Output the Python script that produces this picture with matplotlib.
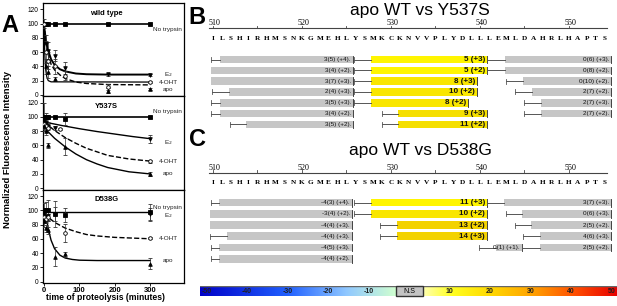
import matplotlib
matplotlib.use('Agg')
import matplotlib.pyplot as plt
import numpy as np
from matplotlib.patches import Rectangle
from matplotlib.colors import LinearSegmentedColormap

plt.rcParams['font.family'] = ['Liberation Sans', 'DejaVu Sans']

W, H = 617, 306

# ---------------- panel A: proteolysis time course ----------------
wt_nt_t = [0, 5, 10, 30, 60, 180, 300]
wt_nt_y = [100, 100, 100, 100, 100, 100, 100]
wt_e2_t = [0, 5, 10, 30, 60, 180, 300]
wt_e2_y = [100, 72, 62, 55, 38, 29, 28]
wt_e2_err = [3, 12, 12, 8, 8, 2, 2]
wt_oht_t = [0, 5, 10, 30, 60, 180, 300]
wt_oht_y = [100, 60, 48, 40, 27, 11, 18]
wt_oht_err = [6, 15, 12, 10, 6, 4, 1]
wt_apo_t = [5, 10, 30, 180, 300]
wt_apo_y = [40, 32, 22, 6, 8]
wt_apo_err = [10, 8, 3, 4, 1]
wt_e2_fit_t = [0, 2, 5, 10, 20, 30, 45, 60, 90, 120, 180, 300]
wt_e2_fit_y = [100, 90, 78, 65, 50, 42, 36, 33, 30, 29, 28.5, 28.5]
wt_oht_fit_t = [0, 5, 10, 20, 30, 45, 60, 90, 120, 180, 300]
wt_oht_fit_y = [100, 75, 60, 43, 35, 28, 23, 18, 16, 14.5, 14]
wt_apo_fit_t = [0, 1, 2, 3, 5, 8, 12, 20, 300]
wt_apo_fit_y = [100, 80, 62, 50, 35, 25, 20, 18.3, 18]

y5_nt_t = [0, 5, 10, 30, 60, 300]
y5_nt_y = [100, 100, 100, 100, 97, 100]
y5_nt_err = [20, 5, 3, 2, 8, 2]
y5_e2_t = [0, 5, 10, 30, 300]
y5_e2_y = [95, 92, 88, 85, 69]
y5_e2_err = [3, 4, 5, 3, 5]
y5_oht_t = [0, 5, 10, 45, 300]
y5_oht_y = [90, 87, 85, 83, 38]
y5_oht_err = [5, 5, 4, 2, 2]
y5_apo_t = [0, 5, 10, 60, 300]
y5_apo_y = [88, 80, 60, 58, 20]
y5_apo_err = [5, 6, 4, 12, 3]
y5_e2_fit_t = [0, 50, 100, 150, 200, 250, 300]
y5_e2_fit_y = [93, 88, 83.5, 79.5, 76, 72.5, 69.5]
y5_oht_fit_t = [0, 30, 60, 90, 120, 150, 180, 240, 300]
y5_oht_fit_y = [93, 81, 71, 63, 56, 51, 46, 41, 38]
y5_apo_fit_t = [0, 10, 30, 60, 90, 120, 150, 180, 240, 300]
y5_apo_fit_y = [90, 80, 70, 58, 48, 40, 34, 29, 23, 20]

d5_nt_t = [0, 5, 10, 30, 60, 300]
d5_nt_y = [100, 100, 100, 95, 93, 97]
d5_nt_err = [10, 12, 15, 18, 10, 12]
d5_e2_t = [0, 5, 10, 30, 300]
d5_e2_y = [95, 90, 92, 95, 95]
d5_e2_err = [5, 8, 6, 10, 8]
d5_oht_t = [0, 5, 10, 60, 300]
d5_oht_y = [90, 88, 90, 68, 61]
d5_oht_err = [5, 5, 5, 13, 1]
d5_apo_t = [0, 5, 10, 30, 60, 300]
d5_apo_y = [85, 75, 72, 35, 38, 25]
d5_apo_err = [8, 5, 5, 13, 3, 8]
d5_nt_fit_t = [0, 300]
d5_nt_fit_y = [97, 97]
d5_oht_fit_t = [0, 10, 20, 30, 45, 60, 90, 120, 150, 200, 250, 300]
d5_oht_fit_y = [95, 91, 87, 83, 79, 75, 70, 66, 64, 62, 61, 60]
d5_apo_fit_t = [0, 5, 10, 15, 20, 30, 45, 60, 80, 100, 150, 300]
d5_apo_fit_y = [95, 90, 80, 68, 58, 46, 37, 33, 31, 30, 29.5, 29.5]

panel_titles = ['wild type', 'Y537S', 'D538G']
wt_labels = ['No trypsin', 'E$_2$', '4-OHT', 'apo']
wt_label_y = [92, 28, 18, 8]
y5_labels = ['No trypsin', 'E$_2$', '4-OHT', 'apo']
y5_label_y = [108, 64, 38, 20]
d5_labels = ['No trypsin', 'E$_2$', '4-OHT', 'apo']
d5_label_y = [104, 92, 60, 29]
x_ticks = [0, 100, 200, 300]
y_ticks = [0, 20, 40, 60, 80, 100, 120]

# ---------------- panels B / C: peptide maps ----------------
sequence = 'ILSHIRHMSNKGMEHLYSMKCKNVVPLYDLLLEMLDAHRLHAPTS'
first_residue = 510
ruler_labels = [510, 520, 530, 540, 550]

b_row = [0, 1, 2, 3, 4, 5, 6,
         0, 1, 2, 3, 4, 5, 6,
         0, 1, 2, 3, 4, 5]
b_ws = [509.8, None, None, 509.9, 509.8, 509.8, 511.9,
        525.8, 525.8, 525.8, 525.8, 525.8, 529.0, 529.0,
        540.8, 540.8, 542.9, 543.9, 544.9, 544.9]
b_bs = [510.8, 509.8, 509.8, 511.8, 510.8, 510.8, 513.7,
        527.8, 527.8, 527.8, 527.8, 527.8, 530.8, 530.8,
        542.8, 542.8, 544.8, 545.8, 546.8, 546.8]
b_be = [525.7, 525.7, 525.7, 525.7, 525.7, 525.7, 525.7,
        540.8, 540.8, 539.7, 539.7, 538.7, 540.8, 540.8,
        554.7, 554.7, 554.7, 554.7, 554.7, 554.7]
b_text = ['3(5) (+4).', '3(4) (+2).', '3(7) (+3).', '2(4) (+3).', '3(5) (+3).', '3(4) (+2).', '3(5) (+2).',
          '5 (+3)', '5 (+2)', '8 (+3)', '10 (+2)', '8 (+2)', '9 (+3)', '11 (+2)',
          '0(6) (+3).', '0(8) (+2).', '0(10) (+2).', '2(7) (+2).', '2(7) (+3).', '2(7) (+2).']
b_fill = ['ns'] * 7 + ['y1', 'y1', 'y2', 'y2', 'y2', 'y3', 'y3'] + ['ns'] * 6

c_row = [0, 1, 2, 3, 4, 5,
         0, 1, 2, 3, 4,
         0, 1, 2, 3, 4]
c_ws = [509.8, None, None, 509.7, 509.8, 509.8,
        525.8, 525.8, 528.8, 528.8, 539.9,
        540.8, 542.9, 543.9, 544.8, 544.7]
c_bs = [510.7, 509.7, 509.7, 511.6, 510.7, 510.7,
        527.7, 527.7, 530.7, 530.7, 541.8,
        542.7, 544.7, 545.7, 546.7, 546.7]
c_be = [525.6, 525.6, 525.6, 525.6, 525.6, 525.6,
        540.8, 540.8, 540.8, 540.8, 544.7,
        554.7, 554.7, 554.7, 554.7, 554.7]
c_text = ['-4(3) (+4).', '-3(4) (+2).', '-4(4) (+3).', '-4(4) (+3).', '-4(5) (+3).', '-4(4) (+2).',
          '11 (+3)', '10 (+2)', '13 (+2)', '14 (+3)', '0(1) (+1).',
          '3(7) (+3).', '0(6) (+3).', '2(5) (+2).', '4(6) (+3).', '2(5) (+2).']
c_fill = ['ns'] * 6 + ['y1', 'y2', 'y4', 'y4', 'ns'] + ['ns'] * 5

cbar_ticks = [-50, -40, -30, -20, -10, 10, 20, 30, 40, 50]

fill_colors = {'ns': '#c6c6c6', 'y1': '#fff500', 'y2': '#f9e600',
               'y3': '#f5df00', 'y4': '#f3d200'}


def box(x0, y0, x1, y1):
    return [x0 / W, 1 - y1 / H, (x1 - x0) / W, (y1 - y0) / H]


fig = plt.figure(figsize=(W / 100, H / 100), dpi=100)

# ---- panel A ----
tops = [3, 96.3, 189.6, 283]
series = [
    dict(nt=(wt_nt_t, wt_nt_y, None), e2=(wt_e2_t, wt_e2_y, wt_e2_err),
         oht=(wt_oht_t, wt_oht_y, wt_oht_err), apo=(wt_apo_t, wt_apo_y, wt_apo_err),
         fits=[((0, 300), (100, 100), '-', 1.2), (wt_e2_fit_t, wt_e2_fit_y, '-', 1.4),
               (wt_oht_fit_t, wt_oht_fit_y, '--', 1.0), (wt_apo_fit_t, wt_apo_fit_y, '-', 0.9)],
         labels=wt_labels, label_y=wt_label_y),
    dict(nt=(y5_nt_t, y5_nt_y, y5_nt_err), e2=(y5_e2_t, y5_e2_y, y5_e2_err),
         oht=(y5_oht_t, y5_oht_y, y5_oht_err), apo=(y5_apo_t, y5_apo_y, y5_apo_err),
         fits=[((0, 300), (100, 100), '-', 1.2), (y5_e2_fit_t, y5_e2_fit_y, '-', 1.0),
               (y5_oht_fit_t, y5_oht_fit_y, '--', 1.0), (y5_apo_fit_t, y5_apo_fit_y, '-', 1.0)],
         labels=y5_labels, label_y=y5_label_y),
    dict(nt=(d5_nt_t, d5_nt_y, d5_nt_err), e2=(d5_e2_t, d5_e2_y, d5_e2_err),
         oht=(d5_oht_t, d5_oht_y, d5_oht_err), apo=(d5_apo_t, d5_apo_y, d5_apo_err),
         fits=[(d5_nt_fit_t, d5_nt_fit_y, '-', 1.0), (d5_oht_fit_t, d5_oht_fit_y, '--', 1.0),
               (d5_apo_fit_t, d5_apo_fit_y, '-', 1.0)],
         labels=d5_labels, label_y=d5_label_y),
]
markers = {'nt': ('s', 'k'), 'e2': ('v', 'k'), 'oht': ('o', 'white'), 'apo': ('^', 'k')}

for i, s in enumerate(series):
    ax = fig.add_axes(box(43, tops[i], 184, tops[i + 1]))
    for ft, fy, ls, lw in s['fits']:
        ax.plot(ft, fy, color='k', ls=ls, lw=lw, zorder=2)
    for key in ['nt', 'e2', 'oht', 'apo']:
        t, y, err = s[key]
        m, fc = markers[key]
        ax.errorbar(t, y, yerr=err, fmt=m, ms=2.6, mfc=fc, mec='k', mew=0.6,
                    ecolor='#333333', elinewidth=0.5, capsize=1.2, capthick=0.5, zorder=3)
    for lab, ly in zip(s['labels'], s['label_y']):
        ax.text(350, ly, lab, fontsize=4.6, color='#222222', ha='center', va='center')
    ax.text(0.45, 0.89, panel_titles[i], transform=ax.transAxes, fontsize=5.5,
            fontweight='bold', ha='center', va='center')
    ax.set_xlim(-2.8, 395.5)
    ax.set_ylim(-2, 129)
    ax.set_yticks(y_ticks)
    ax.set_xticks(x_ticks)
    ax.tick_params(axis='y', labelsize=4.8, length=2, width=0.6, pad=1)
    ax.tick_params(axis='x', labelsize=5.5, length=2, width=0.6, pad=1)
    if i < 2:
        ax.set_xticklabels([])
    else:
        for lbl in ax.get_xticklabels():
            lbl.set_fontweight('bold')
    for sp in ax.spines.values():
        sp.set_linewidth(0.9)

fig.text(10 / W, 1 - 25 / H, 'A', fontsize=17, fontweight='bold', ha='center', va='center')
fig.text(8 / W, 1 - 150 / H, 'Normalized Fluorescence Intensity', fontsize=6.8,
         fontweight='bold', rotation=90, ha='center', va='center')
fig.text(105 / W, 1 - 298 / H, 'time of proteolysis (minutes)', fontsize=6.2,
         fontweight='bold', ha='center', va='center')

# ---- panels B / C ----
res_lo = first_residue + (200 - 213) / 8.9
res_hi = first_residue + (617 - 213) / 8.9
axm = fig.add_axes(box(200, 0, 617, 280))
axm.set_xlim(res_lo, res_hi)
axm.set_ylim(280, 0)
axm.axis('off')


def draw_map(ruler_y, seq_y, row0, step, rows, ws, bs, be, texts, fills):
    last = first_residue + len(sequence) - 1
    axm.plot([first_residue - 0.4, last + 0.3], [ruler_y, ruler_y], color='#444444', lw=0.8)
    for r in range(first_residue, last + 1, 5):
        axm.plot([r, r], [ruler_y - 2.5, ruler_y], color='#444444', lw=0.6)
    for r in ruler_labels:
        axm.text(r - 0.45, ruler_y - 5, str(r), fontsize=5.8, family='Liberation Serif',
                 ha='left', va='center')
    for k, aa in enumerate(sequence):
        axm.text(first_residue + k, seq_y, aa, fontsize=5.2, family='Liberation Serif',
                 fontweight='bold', ha='center', va='center')
    for row, w0, b0, b1, txt, f in zip(rows, ws, bs, be, texts, fills):
        y = row0 + step * row
        if w0 is not None:
            axm.plot([w0, b0], [y, y], color='#555555', lw=0.7)
            axm.plot([w0, w0], [y - 2.5, y + 2.5], color='#555555', lw=0.6)
        axm.add_patch(Rectangle((b0, y - 3.8), b1 - b0, 7.6, facecolor=fill_colors[f],
                                edgecolor='none'))
        axm.plot([b1, b1], [y - 3.8, y + 3.8], color='#222222', lw=0.6)
        if f == 'ns':
            axm.text(b1 - 0.2, y, txt, fontsize=4.6, ha='right', va='center', color='#111111')
        else:
            axm.text(b1 - 0.25, y, txt, fontsize=5.8, fontweight='bold', ha='right',
                     va='center', color='#111111')


draw_map(28, 38, 59.5, 10.8, b_row, b_ws, b_bs, b_be, b_text, b_fill)
draw_map(172.7, 183, 202.7, 11.2, c_row, c_ws, c_bs, c_be, c_text, c_fill)

fig.text(420 / W, 1 - 10 / H, 'apo WT vs Y537S', fontsize=12.5, ha='center', va='center')
fig.text(420 / W, 1 - 150 / H, 'apo WT vs D538G', fontsize=12.5, ha='center', va='center')
fig.text(197 / W, 1 - 17 / H, 'B', fontsize=17, fontweight='bold', ha='center', va='center')
fig.text(197 / W, 1 - 140 / H, 'C', fontsize=17, fontweight='bold', ha='center', va='center')

# ---- colour scale ----
axc = fig.add_axes(box(200, 286, 617, 296))
cb_lo = -51.6
cb_hi = 51.4
ns_lo, ns_hi = -3.2, 3.5
neg_cmap = LinearSegmentedColormap.from_list(
    'neg', [(0, '#0000c8'), (0.45, '#2060ff'), (0.75, '#90c8ff'), (1, '#d0ffd0')])
pos_cmap = LinearSegmentedColormap.from_list(
    'pos', [(0, '#ffffb0'), (0.15, '#ffff20'), (0.35, '#ffd800'), (0.57, '#ffa000'),
            (0.78, '#ff5000'), (1, '#e80000')])
grad = np.linspace(0, 1, 256).reshape(1, -1)
axc.imshow(grad, cmap=neg_cmap, aspect='auto', extent=(cb_lo, ns_lo, 0, 1))
axc.imshow(grad, cmap=pos_cmap, aspect='auto', extent=(ns_hi, cb_hi, 0, 1))
axc.plot([cb_lo, cb_hi], [1, 1], color='#666666', lw=1.0)
axc.add_patch(Rectangle((ns_lo, -0.05), ns_hi - ns_lo, 1.15, facecolor='#c4c4c4',
                        edgecolor='#333333', lw=1.0, clip_on=False, zorder=3))
axc.text((ns_lo + ns_hi) / 2, 0.5, 'N.S', fontsize=5, ha='center', va='center', zorder=4)
for v in cbar_ticks:
    axc.text(v, 0.45, str(v), fontsize=5, fontweight='bold', ha='center', va='center',
             color='#202020')
axc.set_xlim(cb_lo, cb_hi)
axc.set_ylim(0, 1.05)
axc.axis('off')

fig.savefig('out.png', dpi=100)
